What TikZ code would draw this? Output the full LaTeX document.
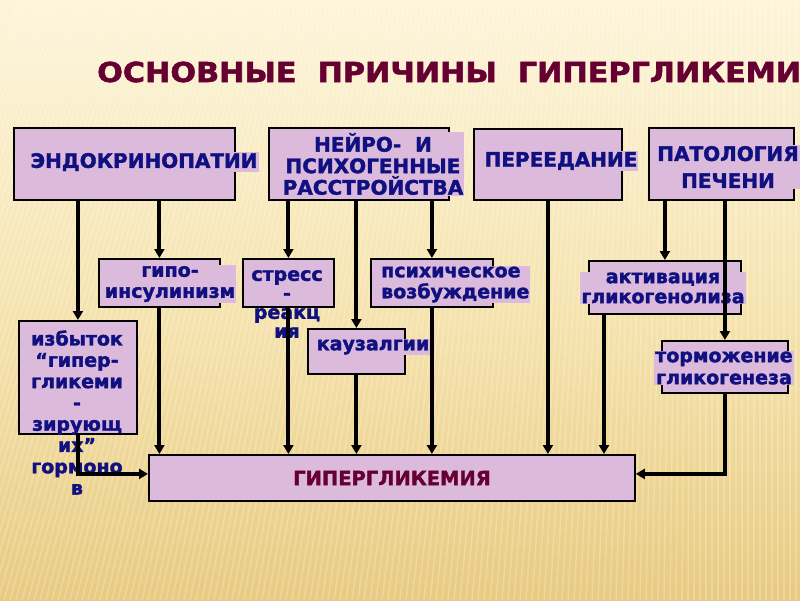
\documentclass[tikz,border=0pt]{standalone}
\usepackage{fontspec}
\usepackage{graphicx}
\setmainfont{DejaVu Sans}
\newfontfamily\heavyfont[FakeBold=1.8]{DejaVu Sans Bold}
\usetikzlibrary{arrows.meta,calc}
\definecolor{lil}{RGB}{220,186,220}
\definecolor{navyt}{RGB}{16,16,128}
\definecolor{maroont}{RGB}{102,0,51}
\definecolor{bgtop}{RGB}{253,245,218}
\definecolor{bgmid}{RGB}{246,228,176}
\definecolor{bgbot}{RGB}{232,203,130}
\begin{document}
\begin{tikzpicture}[x=1pt,y=-1pt,
  box/.style={draw=black,line width=1.8pt,fill=lil,inner sep=0pt,anchor=north west},
  lbl/.style={text=navyt,font=\heavyfont\fontsize{19}{21}\selectfont,inner sep=1pt,fill=lil,align=center},
  lblnf/.style={text=navyt,font=\heavyfont\fontsize{19}{21}\selectfont,inner sep=1pt,align=center},
  capl/.style={text=navyt,font=\heavyfont\fontsize{20}{22}\selectfont,inner sep=1pt,fill=lil,align=center},
  arr/.style={line width=4pt,-{Triangle[length=9pt,width=10pt]}}
]
\useasboundingbox (0,0) rectangle (800,600);
\shade[top color=bgtop,bottom color=bgmid] (0,0) rectangle (800,300);
\shade[top color=bgmid,bottom color=bgbot] (0,300) rectangle (800,600);
\begin{scope}
\clip (0,0) rectangle (800,600);
\foreach \i in {-200,-194,...,900}{
  \pgfmathsetmacro\off{max(0,170*(1-\i/700))}
  \draw[white,opacity=0.22,line width=1.6pt] (\i,600) -- (\i+\off,0);
}
\end{scope}

% title
\node[anchor=west,text=maroont,inner sep=0pt,font=\heavyfont\fontsize{27.5}{30}\selectfont] (title) at (97,72)
  {\scalebox{1.1}[1]{ОСНОВНЫЕ\ \ ПРИЧИНЫ\ \ ГИПЕРГЛИКЕМИИ}};

% top row boxes
\node[box,minimum width=221pt,minimum height=72pt] (endo) at (13,127) {};
\node[box,minimum width=180pt,minimum height=72pt] (neuro) at (268,127) {};
\node[box,minimum width=148pt,minimum height=71pt] (pere) at (473,128) {};
\node[box,minimum width=145pt,minimum height=72pt] (pat) at (648,127) {};

% second row boxes
\node[box,minimum width=121pt,minimum height=48pt] (gipo) at (98,258) {};
\node[box,minimum width=91pt,minimum height=48pt] (stress) at (242,258) {};
\node[box,minimum width=122pt,minimum height=48pt] (psych) at (370,258) {};
\node[box,minimum width=152pt,minimum height=53pt] (aktiv) at (588,260) {};
\node[box,minimum width=118pt,minimum height=113pt] (izb) at (18,320) {};
\node[box,minimum width=97pt,minimum height=45pt] (kauz) at (307,328) {};
\node[box,minimum width=126pt,minimum height=52pt] (torm) at (661,340) {};

% bottom box
\node[box,minimum width=486pt,minimum height=46pt] (hyp) at (148,454) {};

% labels
\node[capl] (endoT) at (144,162) {ЭНДОКРИНОПАТИИ};
\node[capl,font=\heavyfont\fontsize{20}{21.5}\selectfont] (neuroT) at (373,164) {НЕЙРО-\ \ И\\ПСИХОГЕННЫЕ\\РАССТРОЙСТВА};
\node[capl] (pereT) at (561,161) {ПЕРЕЕДАНИЕ};
\node[capl,font=\heavyfont\fontsize{20}{27}\selectfont] (patT) at (728,167) {ПАТОЛОГИЯ\\ПЕЧЕНИ};

\node[lbl] (gipoT) at (170,284) {гипо-\\инсулинизм};
\node[lblnf,font=\heavyfont\fontsize{19}{19}\selectfont] (stressT) at (287,304) {стресс\\-\\реакц\\ия};
\node[lbl,align=left,anchor=west] (psychT) at (380,284.5) {психическое\\возбуждение};
\node[lbl] (kauzT) at (373,347) {каузалгии};
\node[lbl,font=\heavyfont\fontsize{19}{20}\selectfont] (aktivT) at (663,288) {активация\\гликогенолиза};
\node[lbl,font=\heavyfont\fontsize{19}{22}\selectfont] (tormT) at (724,368) {торможение\\гликогенеза};
\node[lblnf,font=\heavyfont\fontsize{19}{21.3}\selectfont] (izbT) at (77,412.5) {избыток\\“гипер-\\гликеми\\-\\зирующ\\их”\\гормоно\\в};
\node[text=maroont,font=\heavyfont\fontsize{19.5}{22}\selectfont,inner sep=0pt] (hypT) at (392,478) {ГИПЕРГЛИКЕМИЯ};

% connectors from top row
\draw[arr] (endo.south -| izb.north) -- (izb.north);
\draw[arr] (gipo.north |- endo.south) -- (gipo.north);
\draw[arr] (stress.north |- neuro.south) -- (stress.north);
\draw[arr] (kauz.north |- neuro.south) -- (kauz.north);
\draw[arr] (psych.north |- neuro.south) -- (psych.north);
\draw[arr] (pere.south) -- (pere.south |- hyp.north);
\draw[arr] (aktiv.north |- pat.south) -- (aktiv.north);
\draw[arr] (torm.north |- pat.south) -- (torm.north);

% connectors into hyperglycemia
\draw[arr] (gipo.south) -- (gipo.south |- hyp.north);
\draw[arr] (stress.south) -- (stress.south |- hyp.north);
\draw[arr] (kauz.south) -- (kauz.south |- hyp.north);
\draw[arr] (psych.south) -- (psych.south |- hyp.north);
\coordinate (aktivOut) at ($(aktiv.south west)+(16,0)$);
\draw[arr] (aktivOut) -- (aktivOut |- hyp.north);
\draw[arr] (izb.south) |- ([yshift=4pt]hyp.west);
\draw[arr] (torm.south) |- ([yshift=4pt]hyp.east);
\end{tikzpicture}
\end{document}
